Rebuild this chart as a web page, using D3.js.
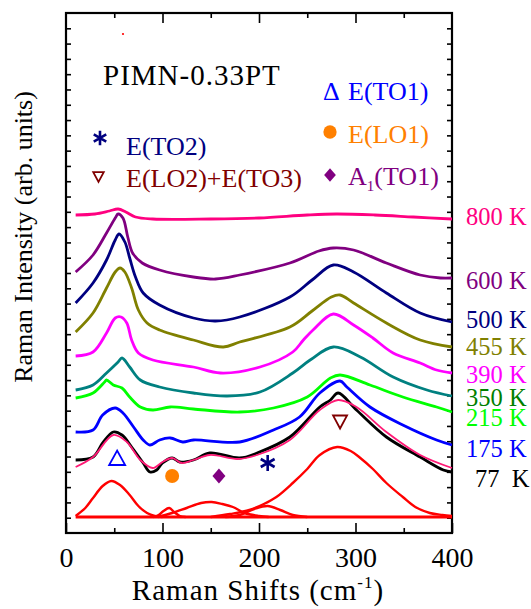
<!DOCTYPE html>
<html>
<head>
<meta charset="utf-8">
<script src="https://d3js.org/d3.v7.min.js"></script>
<style>
  body { margin: 0; background: #fff; }
  text { font-family: "Liberation Serif", "Times New Roman", "DejaVu Serif", serif; }
</style>
</head>
<body>
<div id="chart"></div>
<script>
const FONT = "'Liberation Serif', 'Times New Roman', 'DejaVu Serif', serif";

// temperatures, top to bottom
const temps = ["800 K", "600 K", "500 K", "455 K", "390 K", "350 K", "215 K", "175 K", "77\u00a0\u00a0K"];

// spectra: [Raman shift (cm-1), intensity (arb. units)]
const s800 = [[10,318],[30,319],[45,322],[54,324],[62,321],[72,316],[90,314],[150,314],[200,315],[250,318],[280,319],[320,318],[360,316],[400,314]];
const s600 = [[10,261],[28,278],[42,300],[51,315],[54,319],[59,315],[64,296],[69,280],[79,270],[97,263],[132,256],[155,254],[180,258],[232,270],[262,282],[277,285],[298,283],[332,270],[367,258],[388,255],[400,255]];
const s500 = [[10,230],[28,250],[42,273],[51,293],[55,299],[61,291],[66,275],[72,256],[80,240],[97,228],[132,215],[155,212],[180,216],[232,236],[255,253],[277,268],[298,261],[332,240],[367,220],[400,211]];
const s455 = [[10,201],[28,220],[42,245],[51,261],[56,265],[61,261],[68,245],[75,223],[84,210],[97,203],[132,193],[163,186],[180,191],[232,206],[255,222],[275,236],[284,238],[298,230],[332,210],[367,193],[400,186]];
const s390 = [[10,177],[28,181],[42,200],[51,215],[57,216],[63,210],[68,193],[75,180],[90,173],[132,166],[160,160],[201,166],[235,181],[246,193],[256,203],[277,219],[298,208],[318,195],[339,180],[367,170],[384,163],[400,160]];
const s350 = [[10,143],[28,148],[42,160],[54,171],[58,175],[66,166],[77,153],[97,146],[132,140],[167,137],[201,141],[235,160],[253,173],[277,186],[305,176],[339,156],[374,143],[400,137]];
const s215 = [[10,135],[28,140],[40,151],[42,153],[49,148],[58,145],[66,136],[77,126],[90,123],[108,126],[132,124],[180,121],[215,125],[250,136],[274,155],[284,158],[315,148],[349,136],[384,126],[400,121]];
const s175 = [[10,101],[28,103],[38,118],[51,125],[59,120],[70,106],[80,93],[87,88],[97,93],[108,95],[121,91],[132,93],[180,91],[215,103],[242,116],[263,140],[284,152],[291,146],[315,126],[349,108],[384,93],[400,88]];
const s77  = [[10,73],[28,76],[38,90],[49,101],[58,98],[68,86],[80,70],[87,61],[94,63],[100,70],[110,75],[118,71],[132,73],[149,80],[180,75],[198,80],[232,96],[263,126],[274,133],[282,140],[301,123],[332,96],[367,76],[391,63],[400,61]];
const fit77 = [[10,66],[28,76],[49,98],[63,91],[77,73],[90,65],[100,71],[110,75],[120,70],[132,73],[149,78],[178,74],[198,78],[232,93],[263,123],[282,133],[301,126],[332,101],[367,78],[400,65]];

// fitted components of the 77 K spectrum
const peakTO1 = [[10,17],[20,25],[28,35],[38,47],[47,52],[56,48],[66,38],[75,27],[84,20],[92,17],[100,16]];
const peakLO1 = [[90,16],[96,18],[101,22],[107,25],[112,21],[118,17],[124,16]];
const peakA1  = [[95,16],[110,20],[125,25],[140,30],[151,31],[162,29],[173,26],[185,20],[200,17],[210,16]];
const peakTO2 = [[165,16],[180,18],[195,24],[209,27],[222,23],[235,18],[250,16]];
const peakLO2 = [[150,16],[170,19],[190,23],[205,29],[218,36],[235,50],[250,64],[263,78],[281,86],[295,82],[305,75],[318,64],[332,50],[349,36],[362,26],[377,20],[390,18],[400,17]];
const baseline = [[10,16],[400,16]];

const spectra = [s800, s600, s500, s455, s390, s350, s215, s175, s77];
const peaks = [peakTO1, peakLO1, peakA1, peakTO2, peakLO2];

// mode markers under the 77 K spectrum: [shift, intensity]
const modeMarks = [
  { sym: "delta",    at: [53, 75] },
  { sym: "circle",   at: [110, 57] },
  { sym: "diamond",  at: [158.5, 57] },
  { sym: "asterisk", at: [209, 70] },
  { sym: "nabla",    at: [284, 111] }
];

const lineColors  = ["#ff0080", "#800080", "#000080", "#808000", "#ff00ff", "#008080", "#00ff00", "#0000ff", "#000000"];
const labelColors = ["#ff0080", "#800080", "#000080", "#808000", "#ff00ff", "#008000", "#00ff00", "#0000ff", "#000000"];
const labelBase   = [225, 289, 328, 355, 383, 406, 426, 457, 487];

const W = 531, H = 609;
const svg = d3.select("#chart").append("svg")
  .attr("width", W).attr("height", H)
  .attr("font-family", FONT);

const x = d3.scaleLinear().domain([0, 400]).range([66, 452]);
const y = d3.scaleLinear().domain([0, 520]).range([533, 13]);

const line = d3.line()
  .x(d => x(d[0]))
  .y(d => y(d[1]))
  .curve(d3.curveCatmullRom.alpha(0.5));

// axes (ticks point inwards)
const yTicks = d3.range(1, 34).map(i => i * 520 / 34);
function styleAxis(g) {
  g.attr("font-family", FONT);
  g.select(".domain").remove();
  g.selectAll(".tick line").attr("stroke", "#000").attr("stroke-width", 1.6);
}
svg.append("g").attr("transform", "translate(0,533)")
  .call(d3.axisBottom(x).tickValues([0, 100, 200, 300, 400]).tickSize(-10).tickPadding(14))
  .call(styleAxis)
  .call(g => g.selectAll("text").attr("font-size", 28).attr("fill", "#000").attr("font-family", FONT));
svg.append("g").attr("transform", "translate(0,533)")
  .call(d3.axisBottom(x).tickValues([50, 150, 250, 350]).tickSize(-5).tickFormat(""))
  .call(styleAxis);
svg.append("g").attr("transform", "translate(0,13)")
  .call(d3.axisTop(x).tickValues([100, 200, 300]).tickSize(-10).tickFormat(""))
  .call(styleAxis);
svg.append("g").attr("transform", "translate(0,13)")
  .call(d3.axisTop(x).tickValues([50, 150, 250, 350]).tickSize(-5).tickFormat(""))
  .call(styleAxis);
svg.append("g").attr("transform", "translate(66,0)")
  .call(d3.axisLeft(y).tickValues(yTicks).tickSize(-5).tickFormat(""))
  .call(styleAxis);
svg.append("g").attr("transform", "translate(452,0)")
  .call(d3.axisRight(y).tickValues(yTicks).tickSize(-5).tickFormat(""))
  .call(styleAxis);

svg.append("rect")
  .attr("x", 66).attr("y", 13).attr("width", 386).attr("height", 520)
  .attr("fill", "none").attr("stroke", "#000").attr("stroke-width", 2.2);

// fitted components
svg.append("path").datum(baseline).attr("d", line)
  .attr("fill", "none").attr("stroke", "#ff0000").attr("stroke-width", 3.2);
svg.selectAll(".peak").data(peaks).enter().append("path")
  .attr("class", "peak")
  .attr("d", line)
  .attr("fill", "none").attr("stroke", "#ff0000").attr("stroke-width", 2.4);

// spectra
svg.selectAll(".spec").data(spectra).enter().append("path")
  .attr("class", "spec")
  .attr("d", line)
  .attr("fill", "none")
  .attr("stroke", (d, i) => lineColors[i])
  .attr("stroke-width", 2.8)
  .attr("stroke-linejoin", "round");

svg.append("path").datum(fit77).attr("d", line)
  .attr("fill", "none").attr("stroke", "#ff1a75").attr("stroke-width", 1.8);

// temperature labels
svg.selectAll(".tlab").data(temps).enter().append("text")
  .attr("class", "tlab")
  .attr("x", (d, i) => i === temps.length - 1 ? 475 : 466)
  .attr("y", (d, i) => labelBase[i])
  .attr("font-size", 24.5)
  .attr("fill", (d, i) => labelColors[i])
  .text(d => d);

// marker drawing
function asteriskPath(r) {
  const p = d3.path();
  for (let k = 0; k < 3; k++) {
    const a = Math.PI / 2 + k * Math.PI / 3;
    p.moveTo(r * Math.cos(a), r * Math.sin(a));
    p.lineTo(-r * Math.cos(a), -r * Math.sin(a));
  }
  return p.toString();
}
function drawMark(sym, cx, cy, scale) {
  const g = svg.append("g").attr("transform", `translate(${cx},${cy})`);
  if (sym === "delta") {
    g.append("path").attr("d", `M${-8*scale},${7*scale}L${8*scale},${7*scale}L0,${-7.5*scale}Z`)
      .attr("fill", "none").attr("stroke", "#0000ff").attr("stroke-width", 1.8);
  } else if (sym === "circle") {
    g.append("circle").attr("r", 7 * scale).attr("fill", "#ff8000");
  } else if (sym === "diamond") {
    g.append("path").attr("d", `M0,${-7.5*scale}L${6.5*scale},0L0,${7.5*scale}L${-6.5*scale},0Z`)
      .attr("fill", "#800080");
  } else if (sym === "asterisk") {
    g.append("path").attr("d", asteriskPath(8 * scale))
      .attr("stroke", "#000080").attr("stroke-width", 2.6);
  } else if (sym === "nabla") {
    g.append("path").attr("d", `M${-7*scale},${-6.5*scale}L${7*scale},${-6.5*scale}L0,${6.5*scale}Z`)
      .attr("fill", "none").attr("stroke", "#800000").attr("stroke-width", 1.8);
  }
}
modeMarks.forEach(m => drawMark(m.sym, x(m.at[0]), y(m.at[1]), 1));

// legend
svg.append("text").attr("x", 103).attr("y", 85).attr("font-size", 29)
  .attr("letter-spacing", 1).attr("fill", "#000").text("PIMN-0.33PT");

svg.append("text").attr("x", 323).attr("y", 100).attr("font-size", 26).attr("fill", "#0000ff").text("\u0394");
svg.append("text").attr("x", 348).attr("y", 100).attr("font-size", 26).attr("fill", "#0000ff").text("E(TO1)");

drawMark("circle", 330, 132, 0.95);
svg.append("text").attr("x", 348).attr("y", 143).attr("font-size", 26).attr("fill", "#ff8000").text("E(LO1)");

drawMark("diamond", 330, 175, 0.9);
const a1 = svg.append("text").attr("x", 348).attr("y", 185).attr("font-size", 26).attr("fill", "#800080");
a1.append("tspan").text("A");
a1.append("tspan").attr("font-size", 15).attr("dy", 6).text("1");
a1.append("tspan").attr("dy", -6).text("(TO1)");

drawMark("asterisk", 100, 138, 0.9);
svg.append("text").attr("x", 126).attr("y", 155).attr("font-size", 26).attr("fill", "#000080").text("E(TO2)");

drawMark("nabla", 98.5, 177, 0.75);
svg.append("text").attr("x", 126).attr("y", 187).attr("font-size", 26).attr("fill", "#800000").text("E(LO2)+E(TO3)");

// stray red speck near the top
svg.append("circle").attr("cx", 123).attr("cy", 34).attr("r", 1.1).attr("fill", "#ff0000");

// axis titles
const xt = svg.append("text").attr("x", 258).attr("y", 600).attr("text-anchor", "middle")
  .attr("font-size", 29).attr("letter-spacing", 1).attr("fill", "#000");
xt.append("tspan").text("Raman Shifts (cm");
xt.append("tspan").attr("font-size", 17).attr("dy", -12).text("-1");
xt.append("tspan").attr("dy", 12).text(")");

svg.append("text")
  .attr("transform", "translate(32,237) rotate(-90)")
  .attr("text-anchor", "middle")
  .attr("font-size", 26).attr("fill", "#000")
  .text("Raman Intensity (arb. units)");
</script>
</body>
</html>
